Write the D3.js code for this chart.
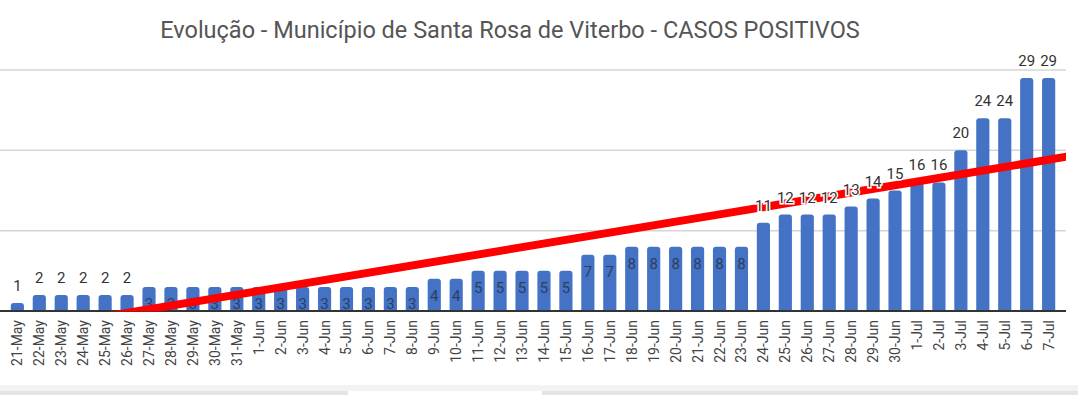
<!DOCTYPE html>
<html>
<head>
<meta charset="utf-8">
<script src="https://cdn.jsdelivr.net/npm/d3@7"></script>
<style>
  body { margin: 0; background: #fff; }
  svg { display: block; font-family: Roboto, "Noto Sans", sans-serif; }
</style>
</head>
<body>
<div id="chart"></div>
<script>
const days = [
  "21-May", "22-May", "23-May", "24-May", "25-May", "26-May", "27-May", "28-May",
  "29-May", "30-May", "31-May", "1-Jun", "2-Jun", "3-Jun", "4-Jun", "5-Jun",
  "6-Jun", "7-Jun", "8-Jun", "9-Jun", "10-Jun", "11-Jun", "12-Jun", "13-Jun",
  "14-Jun", "15-Jun", "16-Jun", "17-Jun", "18-Jun", "19-Jun", "20-Jun", "21-Jun",
  "22-Jun", "23-Jun", "24-Jun", "25-Jun", "26-Jun", "27-Jun", "28-Jun", "29-Jun",
  "30-Jun", "1-Jul", "2-Jul", "3-Jul", "4-Jul", "5-Jul", "6-Jul", "7-Jul"
];
const cases = [
  1, 2, 2, 2, 2, 2, 3, 3,
  3, 3, 3, 3, 3, 3, 3, 3,
  3, 3, 3, 4, 4, 5, 5, 5,
  5, 5, 7, 7, 8, 8, 8, 8,
  8, 8, 11, 12, 12, 12, 13, 14,
  15, 16, 16, 20, 24, 24, 29, 29
];
const gridTicks = [0, 10, 20, 30];
const title = "Evolução - Município de Santa Rosa de Viterbo - CASOS POSITIVOS";

document.addEventListener("DOMContentLoaded", draw);

function draw() {
  const width = 1078;
  const height = 395;
  const plot = { left: 2, right: 1064, top: 70, bottom: 311 };

  const svg = d3
    .select("#chart")
    .append("svg")
    .attr("width", width)
    .attr("height", height);

  const x = d3.scaleBand().domain(days).range([plot.left, plot.right]).padding(0.4);
  const y = d3.scaleLinear().domain([0, 30]).range([plot.bottom, plot.top]);

  svg
    .append("text")
    .attr("x", 510)
    .attr("y", 38)
    .attr("text-anchor", "middle")
    .attr("font-size", 23.5)
    .attr("fill", "#555")
    .text(title);

  // gridlines
  svg
    .append("g")
    .selectAll("line")
    .data(gridTicks.slice(1))
    .enter()
    .append("line")
    .attr("x1", 0)
    .attr("x2", 1066)
    .attr("y1", (d) => y(d))
    .attr("y2", (d) => y(d))
    .attr("stroke", "#d6d6d6")
    .attr("stroke-width", 1.5);

  // bars with rounded top
  const r = 3;
  svg
    .append("g")
    .selectAll("path")
    .data(cases)
    .enter()
    .append("path")
    .attr("fill", "#4472c4")
    .attr("d", (d, i) => {
      const x0 = x(days[i]);
      const w = x.bandwidth();
      const top = y(d);
      const b = y(0);
      return `M${x0},${b}V${top + r}Q${x0},${top} ${x0 + r},${top}H${x0 + w - r}Q${x0 + w},${top} ${x0 + w},${top + r}V${b}Z`;
    });

  // baseline
  svg
    .append("line")
    .attr("x1", 0)
    .attr("x2", 1066)
    .attr("y1", y(0))
    .attr("y2", y(0))
    .attr("stroke", "#333")
    .attr("stroke-width", 2);

  const inside = (d) => d >= 3 && d <= 8;
  const cx = (i) => x(days[i]) + x.bandwidth() / 2;

  // labels inside the bars (under the trend line)
  svg
    .append("g")
    .selectAll("text")
    .data(cases.map((d, i) => ({ d, i })).filter((o) => inside(o.d)))
    .enter()
    .append("text")
    .attr("x", (o) => cx(o.i))
    .attr("y", (o) => y(o.d) + 22)
    .attr("text-anchor", "middle")
    .attr("font-size", 15)
    .attr("fill", "#2d3e60")
    .text((o) => o.d);

  // linear trend (least squares over the data)
  const mx = d3.mean(cases, (d, i) => i);
  const my = d3.mean(cases);
  const sxy = d3.sum(cases, (d, i) => (i - mx) * (d - my));
  const sxx = d3.sum(cases, (d, i) => (i - mx) * (i - mx));
  const slope = sxy / sxx;
  const icpt = my - slope * mx;
  const step = x.step();
  const c0 = cx(0);
  const trendAt = (px) => icpt + slope * ((px - c0) / step);

  svg
    .append("defs")
    .append("clipPath")
    .attr("id", "clip")
    .append("rect")
    .attr("x", 0)
    .attr("y", 0)
    .attr("width", 1066)
    .attr("height", y(0) + 0.5);

  svg
    .append("line")
    .attr("clip-path", "url(#clip)")
    .attr("x1", 0)
    .attr("y1", y(trendAt(0)))
    .attr("x2", 1068)
    .attr("y2", y(trendAt(1068)))
    .attr("stroke", "#ff0000")
    .attr("stroke-width", 8);

  // labels above the bars
  svg
    .append("g")
    .selectAll("text")
    .data(cases.map((d, i) => ({ d, i })).filter((o) => !inside(o.d)))
    .enter()
    .append("text")
    .attr("x", (o) => cx(o.i))
    .attr("y", (o) => y(o.d) - 12)
    .attr("text-anchor", "middle")
    .attr("font-size", 15)
    .attr("fill", "#333")
    .attr("stroke", "#fff")
    .attr("stroke-width", 3)
    .attr("paint-order", "stroke")
    .text((o) => o.d);

  // x axis labels
  svg
    .append("g")
    .selectAll("text")
    .data(days)
    .enter()
    .append("text")
    .attr("transform", (d, i) => `translate(${cx(i) + 5},320) rotate(-90)`)
    .attr("text-anchor", "end")
    .attr("font-size", 14)
    .attr("fill", "#444")
    .text((d) => d);

  // bottom strip of the screen
  svg
    .append("rect")
    .attr("x", 0)
    .attr("y", 385)
    .attr("width", width)
    .attr("height", 6)
    .attr("fill", "#f3f3f3");
  svg
    .append("rect")
    .attr("x", 0)
    .attr("y", 391)
    .attr("width", width)
    .attr("height", 4)
    .attr("fill", "#e4e4e4");
  svg
    .append("rect")
    .attr("x", 348)
    .attr("y", 391)
    .attr("width", 194)
    .attr("height", 4)
    .attr("fill", "#fff");
}
</script>
</body>
</html>
